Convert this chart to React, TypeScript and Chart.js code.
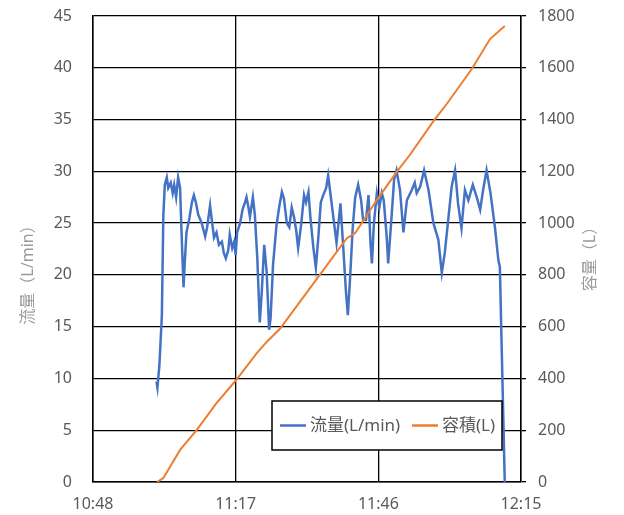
import React, { useEffect, useRef } from 'react';
import { Chart, registerables } from 'chart.js';

Chart.register(...registerables);

const FONT = "'Noto Sans', 'Noto Sans CJK JP', sans-serif";

// minutes after 10:48
const flowMinutes = [
  12.9, 13.1, 13.5, 14.0, 14.3, 14.6, 15.0, 15.3, 15.8, 16.2, 16.5, 16.9, 17.3, 17.7, 18.0, 18.4, 18.7, 19.0,
  19.6, 20.1, 20.5, 20.9, 21.4, 22.1, 22.8, 23.2, 23.8, 24.1, 24.6, 25.1, 25.6, 26.2, 26.6, 27.0, 27.5, 27.8,
  28.3, 28.7, 29.0, 29.3, 29.9, 30.4, 30.9, 31.2, 31.6, 31.9, 32.5, 32.9, 33.4, 33.9, 34.3, 34.8, 35.3, 35.8,
  36.1, 36.6, 37.3, 37.9, 38.4, 38.8, 39.4, 39.9, 40.4, 40.9, 41.3, 41.7, 42.3, 42.9, 43.3, 43.8, 44.2, 44.8,
  45.3, 45.8, 46.3, 46.8, 47.4, 47.8, 48.3, 48.8, 49.5, 49.9, 50.3, 50.9, 51.4, 51.8, 52.2, 52.8, 53.3, 53.9,
  54.5, 54.9, 55.5, 56.0, 56.4, 56.7, 57.1, 57.7, 58.2, 58.7, 59.1, 59.7, 60.0, 60.6, 61.2, 61.7, 62.4, 63.1,
  63.8, 64.8, 65.4, 65.8, 66.5, 67.3, 68.2, 69.2, 70.2, 70.9, 71.5, 72.2, 72.9, 73.6, 74.2, 74.9, 75.6, 76.3,
  77.2, 78.0, 78.7, 79.3, 80.0, 80.8, 81.7, 82.4, 82.7, 83.7,
];
const flowValues = [
  9.7, 9.1, 11.3, 16.1, 25.8, 28.7, 29.4, 28.4, 28.9, 27.9, 28.7, 27.5, 29.4, 28.4, 24.1, 18.8, 21.6, 24.1,
  25.5, 27.0, 27.7, 27.0, 25.8, 25.0, 23.7, 24.6, 26.7, 25.5, 23.6, 24.1, 22.9, 23.2, 22.1, 21.6, 22.4, 23.9,
  22.6, 23.2, 21.9, 24.1, 25.0, 26.3, 27.0, 27.5, 26.5, 25.6, 27.5, 25.8, 21.6, 15.4, 18.3, 22.9, 20.3, 14.7,
  15.8, 21.0, 24.8, 26.7, 28.0, 27.4, 25.0, 24.6, 26.5, 25.5, 24.3, 22.6, 24.8, 27.7, 27.0, 28.0, 25.5, 22.6,
  20.7, 23.6, 27.0, 27.7, 28.4, 29.6, 27.7, 25.8, 23.1, 25.0, 26.9, 22.4, 18.5, 16.1, 19.2, 24.6, 27.5, 28.7,
  27.2, 25.3, 25.3, 27.7, 23.1, 21.1, 25.0, 27.9, 26.5, 27.9, 27.2, 23.7, 21.1, 25.0, 29.2, 30.1, 28.2, 24.1,
  27.2, 28.2, 28.9, 27.9, 28.5, 30.1, 28.2, 25.0, 23.4, 20.2, 22.1, 25.3, 28.5, 30.1, 26.9, 24.5, 28.2, 27.2,
  28.7, 27.5, 26.3, 28.2, 30.1, 27.9, 24.6, 21.4, 20.8, 0,
];

const volumeMinutes = [
  13.0, 14.3, 17.7, 21.1, 25.1, 29.1, 33.3, 35.3, 38.0, 46.1, 51.6, 53.3, 57.7, 61.7, 64.4, 69.2, 71.9, 77.0, 80.7, 83.7,
];
const volumeValues = [
  0, 15, 124, 201, 305, 394, 498, 541, 592, 800, 942, 962, 1089, 1197, 1263, 1394, 1460, 1595, 1711, 1761,
];

const xTickMinutes = [0, 29, 58, 87];
const xTickLabels = ['10:48', '11:17', '11:46', '12:15'];

const seriesLabels = ['流量(L/min)', '容積(L)'];
const seriesColors = ['#4472C4', '#ED7D31'];
const leftTitle = '流量（L/min）';
const rightTitle = '容量（L）';

const overlayPlugin = {
  id: 'overlay',
  afterDraw(chart: any) {
    const ctx = chart.ctx as CanvasRenderingContext2D;
    ctx.save();
    ctx.font = `16px ${FONT}`;
    ctx.fillStyle = '#9a9a9a';
    ctx.textAlign = 'center';
    ctx.textBaseline = 'middle';
    ctx.save();
    ctx.translate(28, 271);
    ctx.rotate(-Math.PI / 2);
    ctx.fillText(leftTitle, 0, 0);
    ctx.restore();
    ctx.save();
    ctx.translate(590, 255);
    ctx.rotate(-Math.PI / 2);
    ctx.fillText(rightTitle, 0, 0);
    ctx.restore();

    // legend box
    const bx = 272, by = 401, bw = 230, bh = 49;
    ctx.fillStyle = '#ffffff';
    ctx.fillRect(bx, by, bw, bh);
    ctx.strokeStyle = '#000000';
    ctx.lineWidth = 1.5;
    ctx.strokeRect(bx, by, bw, bh);
    const cy = by + bh / 2;
    const starts = [280, 412];
    ctx.font = `17px ${FONT}`;
    ctx.textAlign = 'left';
    seriesLabels.forEach((lbl, i) => {
      ctx.strokeStyle = seriesColors[i];
      ctx.lineWidth = 2.5;
      ctx.beginPath();
      ctx.moveTo(starts[i], cy);
      ctx.lineTo(starts[i] + 26, cy);
      ctx.stroke();
      ctx.fillStyle = '#595959';
      ctx.fillText(lbl, starts[i] + 30, cy + 1);
    });
    ctx.restore();
  },
};

export default function App() {
  const ref = useRef<HTMLCanvasElement>(null);
  useEffect(() => {
    if (!ref.current) return;
    Chart.defaults.font.family = FONT;
    const chart = new Chart(ref.current, {
      type: 'line',
      data: {
        datasets: [
          {
            label: seriesLabels[1],
            data: volumeMinutes.map((m, i) => ({ x: m, y: volumeValues[i] })),
            borderColor: seriesColors[1],
            borderWidth: 2,
            pointRadius: 0,
            tension: 0,
            yAxisID: 'y2',
            order: 0,
          },
          {
            label: seriesLabels[0],
            data: flowMinutes.map((m, i) => ({ x: m, y: flowValues[i] })),
            borderColor: seriesColors[0],
            borderWidth: 2.5,
            pointRadius: 0,
            tension: 0,
            yAxisID: 'y',
            order: 1,
          },
        ],
      },
      options: {
        animation: false,
        responsive: false,
        devicePixelRatio: 1,
        layout: { padding: { top: 16, left: 0, right: 0, bottom: 0 } },
        plugins: { legend: { display: false }, tooltip: { enabled: false } },
        scales: {
          x: {
            type: 'linear',
            min: 0,
            max: 87,
            afterBuildTicks: (s: any) => {
              s.ticks = xTickMinutes.map((v) => ({ value: v }));
            },
            afterFit: (s: any) => {
              s.height = 33;
              s.paddingLeft = 0;
              s.paddingRight = 0;
            },
            ticks: {
              autoSkip: false,
              maxRotation: 0,
              padding: 13,
              color: '#595959',
              font: { size: 16 },
              callback: (_v: any, i: number) => xTickLabels[i],
            },
            grid: { color: '#000000', lineWidth: 1.3, drawTicks: false },
            border: { color: '#000000', width: 1.5 },
          },
          y: {
            position: 'left',
            min: 0,
            max: 45,
            afterFit: (s: any) => {
              s.width = 93;
              s.paddingTop = 0;
              s.paddingBottom = 0;
            },
            ticks: {
              stepSize: 5,
              padding: 21,
              color: '#595959',
              font: { size: 16 },
              callback: (v: any) => String(v),
            },
            grid: { color: '#000000', lineWidth: 1.3, drawTicks: false },
            border: { color: '#000000', width: 1.5 },
          },
          y2: {
            position: 'right',
            min: 0,
            max: 1800,
            afterFit: (s: any) => {
              s.width = 103;
              s.paddingTop = 0;
              s.paddingBottom = 0;
            },
            ticks: {
              stepSize: 200,
              padding: 12,
              color: '#595959',
              font: { size: 16 },
              callback: (v: any) => String(v),
            },
            grid: { drawOnChartArea: false, color: '#000000', lineWidth: 1.3, drawTicks: true, tickLength: 5 },
            border: { color: '#000000', width: 1.5 },
          },
        },
      },
      plugins: [overlayPlugin],
    });
    return () => chart.destroy();
  }, []);
  return (
    <div style={{ position: 'fixed', left: 0, top: 0, width: 624, height: 515, background: '#fff' }}>
      <canvas ref={ref} width={624} height={515} style={{ display: 'block' }} />
    </div>
  );
}
